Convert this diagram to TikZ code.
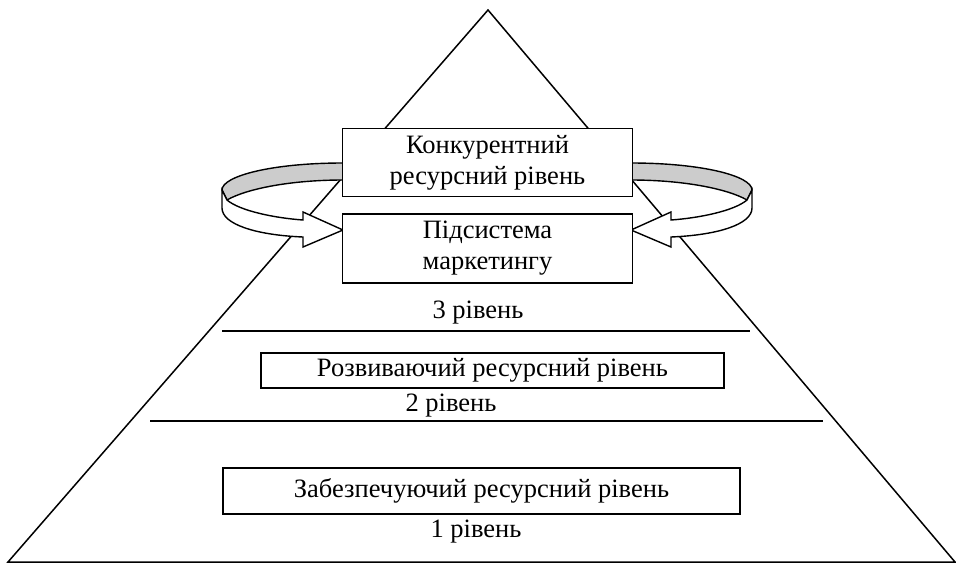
\documentclass[tikz,border=0pt]{standalone}
\usepackage{fontspec}
\setmainfont{Liberation Serif}
\newcommand{\ribbonarrow}{%
\filldraw[black, line width=1.4pt, fill=black!20] (343,163) .. controls (272,163) and (222,176) .. (222,190) -- (227,200) .. controls (246,189) and (290,180) .. (343,180) -- cycle;
\filldraw[black, line width=1.4pt, fill=white] (222,190) -- (222,208) .. controls (222,224) and (255,235) .. (303,237) -- (303,247) -- (343,230) -- (303,212) -- (303,220) .. controls (275,218) and (240,211) .. (227,200) -- cycle;}

\begin{document}
\begin{tikzpicture}[x=1pt,y=-1pt,
  levelbox/.style={draw, fill=white, line width=1.6pt, inner sep=0pt, align=center},
  leveltext/.style={inner sep=0pt, anchor=base}]
\useasboundingbox (0,0) rectangle (956,563);
\fontsize{26.5}{31}\selectfont
\draw[line width=1.5pt] (488,10) -- (955,562) -- (8,562) -- cycle;
\ribbonarrow
\begin{scope}[xshift=974pt, xscale=-1]
\ribbonarrow
\end{scope}
\node[levelbox, minimum width=290pt, minimum height=68pt] (konk) at (487.5,162.5) {Конкурентний\\ресурсний рівень};
\node[levelbox, minimum width=290pt, minimum height=69pt] (pidsys) at (487.5,248.5) {Підсистема\\маркетингу};
\node[leveltext] (lvl3) at (478,318) {3 рівень};
\draw[line width=1.5pt] (222,331) -- (750,331);
\node[levelbox, minimum width=463pt, minimum height=35pt] (rozv) at (492.5,370.5) {Розвиваючий ресурсний рівень};
\node[leveltext] (lvl2) at (451,411) {2 рівень};
\draw[line width=1.5pt] (150,421) -- (823,421);
\node[levelbox, minimum width=517pt, minimum height=46pt] (zabez) at (481.5,491) {Забезпечуючий ресурсний рівень};
\node[leveltext] (lvl1) at (476,537) {1 рівень};
\end{tikzpicture}
\end{document}
